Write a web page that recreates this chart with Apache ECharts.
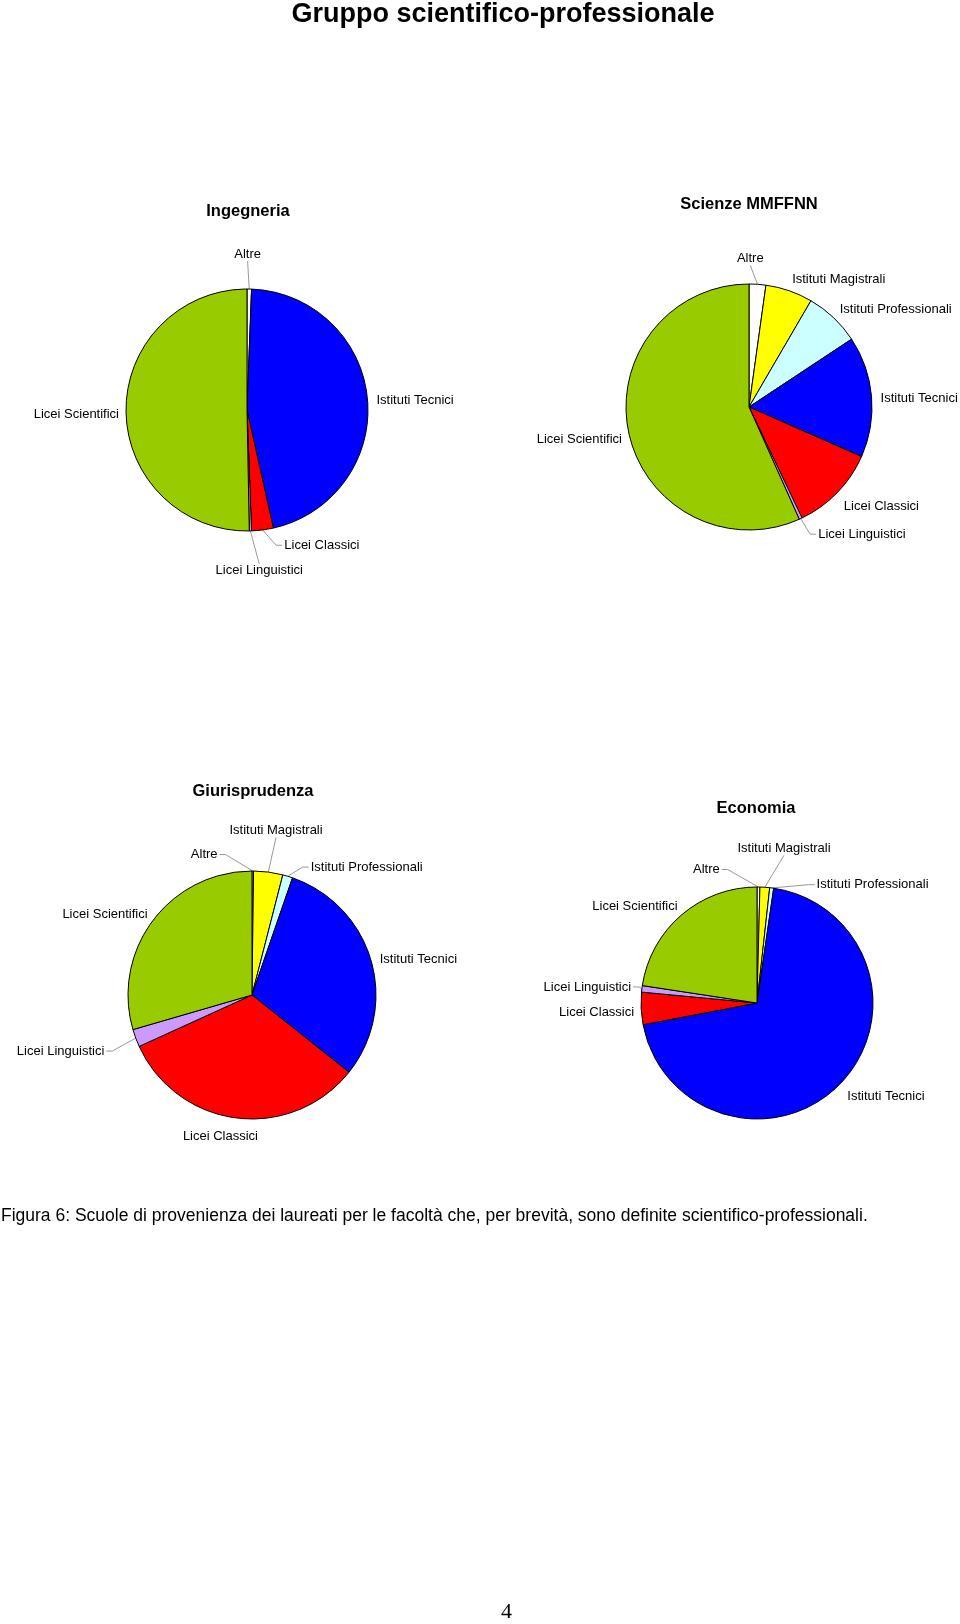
<!DOCTYPE html>
<html>
<head>
<meta charset="utf-8">
<script src="https://cdn.jsdelivr.net/npm/echarts@6/dist/echarts.min.js"></script>
<style>
html,body{margin:0;padding:0;background:#fff;}
#chart{width:960px;height:1624px;}
</style>
</head>
<body>
<div id="chart"></div>
<script>
// ---- data ----
const categories = ['Altre','Istituti Magistrali','Istituti Professionali','Istituti Tecnici','Licei Classici','Licei Linguistici','Licei Scientifici'];
const colors = ['#FFFFFF','#FFFF00','#CCFFFF','#0000FF','#FF0000','#CC99FF','#99CC00'];
const ingegneria = [0.6, 0, 0, 45.9, 2.9, 0.3, 50.3];
const scienze = [2.2, 6.2, 7.3, 15.9, 11.3, 0.4, 56.7];
const giurisprudenza = [0.2, 3.8, 1.3, 30.4, 32.5, 2.3, 29.5];
const economia = [0.4, 1.35, 0.55, 69.7, 4.5, 0.9, 22.6];
const pieTitles = ['Ingegneria','Scienze MMFFNN','Giurisprudenza','Economia'];
const mainTitle = 'Gruppo scientifico-professionale';
const caption = 'Figura 6: Scuole di provenienza dei laureati per le facoltà che, per brevità, sono definite scientifico-professionali.';
const pageNumber = '4';

// ---- layout / style ----
const pies = [
  {values: ingegneria, center:[247,410], radius:121, title:[248,212]},
  {values: scienze, center:[749,407], radius:123, title:[749,205]},
  {values: giurisprudenza, center:[252,995], radius:124, title:[253,792]},
  {values: economia, center:[757,1003], radius:116, title:[756,809]}
];
// label nudges (px) for leader-line labels, like the spread-out placement of the original
const labelNudges = [
  {'Altre':[-3,-6], 'Licei Classici':[40,-19], 'Licei Linguistici':[4,5]},
  {'Altre':[-12,3], 'Licei Linguistici':[7,-16]},
  {'Altre':[-49,12], 'Istituti Magistrali':[-16,-13], 'Istituti Professionali':[18,18], 'Licei Linguistici':[-10,-1]},
  {'Altre':[-53,11], 'Istituti Magistrali':[7,-10], 'Istituti Professionali':[74,25], 'Licei Linguistici':[12,-1]}
];
const FONT = '"Liberation Sans", Arial, sans-serif';
const SMALL = 4;      // slices below this share get a leader line
const GAP_BIG = 9;    // label distance from rim, no line
const GAP_SMALL = 25; // label distance from rim, with line
const LABEL_DY = 3;   // baseline tweak for label text

function buildData(values){
  const out = [];
  values.forEach((v,i)=>{
    if(v > 0){
      out.push({
        name: categories[i], value: v,
        itemStyle:{color: colors[i]},
        labelLine:{show: v < SMALL}
      });
    }
  });
  return out;
}

const chart = echarts.init(document.getElementById('chart'), null, {renderer:'canvas'});

function placeLabel(k, params){
  const data = chart.getModel().getSeriesByIndex(params.seriesIndex).getData();
  const lay = data.getItemLayout(params.dataIndex);
  const cx = lay.cx, cy = lay.cy, r = lay.r;
  const mid = (lay.startAngle + lay.endAngle) / 2;
  const value = data.get('value', params.dataIndex);
  const name = data.getName(params.dataIndex);
  const ux = Math.cos(mid), uy = Math.sin(mid);
  const small = value < SMALL;
  const d = small ? GAP_SMALL : GAP_BIG;
  const w = params.labelRect.width, h = params.labelRect.height;
  const px = cx + (r + d) * ux, py = cy + (r + d) * uy;
  let lx;
  if (ux > 0.3) lx = px + w / 2;
  else if (ux < -0.3) lx = px - w / 2 + 2;
  else lx = px + (ux / 0.3) * w / 2;
  let ly = py + uy * h / 2 + LABEL_DY;
  const res = {x: lx, y: ly, align:'center', verticalAlign:'middle'};
  if (small) {
    const nd = (labelNudges[k] || {})[name] || [0,0];
    lx += nd[0]; ly += nd[1];
    res.x = lx; res.y = ly;
    const ex = cx + r * ux, ey = cy + r * uy;
    let pts;
    if (lx - w/2 > ex + 2) {
      const endX = lx - w/2 - 2;
      pts = [[ex,ey],[endX-6,ly],[endX,ly]];
    } else if (lx + w/2 < ex - 2) {
      const endX = lx + w/2 + 2;
      pts = [[ex,ey],[endX+6,ly],[endX,ly]];
    } else {
      const endY = ly > ey ? ly - h/2 : ly + h/2;
      pts = [[ex,ey],[lx,endY]];
    }
    res.labelLinePoints = pts;
  }
  return res;
}

const titles = [{
  text: mainTitle, left: 503, top: 1, textAlign:'center', padding:0,
  textStyle:{fontFamily:FONT, fontSize:27, fontWeight:'bold', color:'#000'}
}];
pies.forEach((p,k)=>{
  titles.push({
    text: pieTitles[k], left: p.title[0], top: p.title[1]-9, textAlign:'center', padding:0,
    textStyle:{fontFamily:FONT, fontSize:16.5, fontWeight:'bold', color:'#000'}
  });
});

const series = pies.map((p,k)=>({
  type:'pie',
  center:p.center,
  radius:p.radius,
  startAngle:90,
  clockwise:true,
  animation:false,
  avoidLabelOverlap:false,
  minShowLabelAngle:0,
  itemStyle:{borderColor:'#000', borderWidth:1},
  label:{show:true, position:'outside', formatter:'{b}', fontFamily:FONT, fontSize:13, color:'#000', overflow:'none'},
  labelLine:{length:12, length2:8, lineStyle:{color:'#999', width:1}},
  labelLayout: function(params){ return placeLabel(k, params); },
  emphasis:{disabled:true},
  data: buildData(p.values)
}));

chart.setOption({
  backgroundColor:'#fff',
  animation:false,
  title: titles,
  series: series,
  graphic:[
    {type:'text', left:1, top:1207, style:{text:caption, fontFamily:FONT, fontSize:17.5, fill:'#000'}},
    {type:'text', left:501, top:1601, style:{text:pageNumber, fontFamily:'"Liberation Serif", serif', fontSize:22, fill:'#000'}}
  ]
});
</script>
</body>
</html>
